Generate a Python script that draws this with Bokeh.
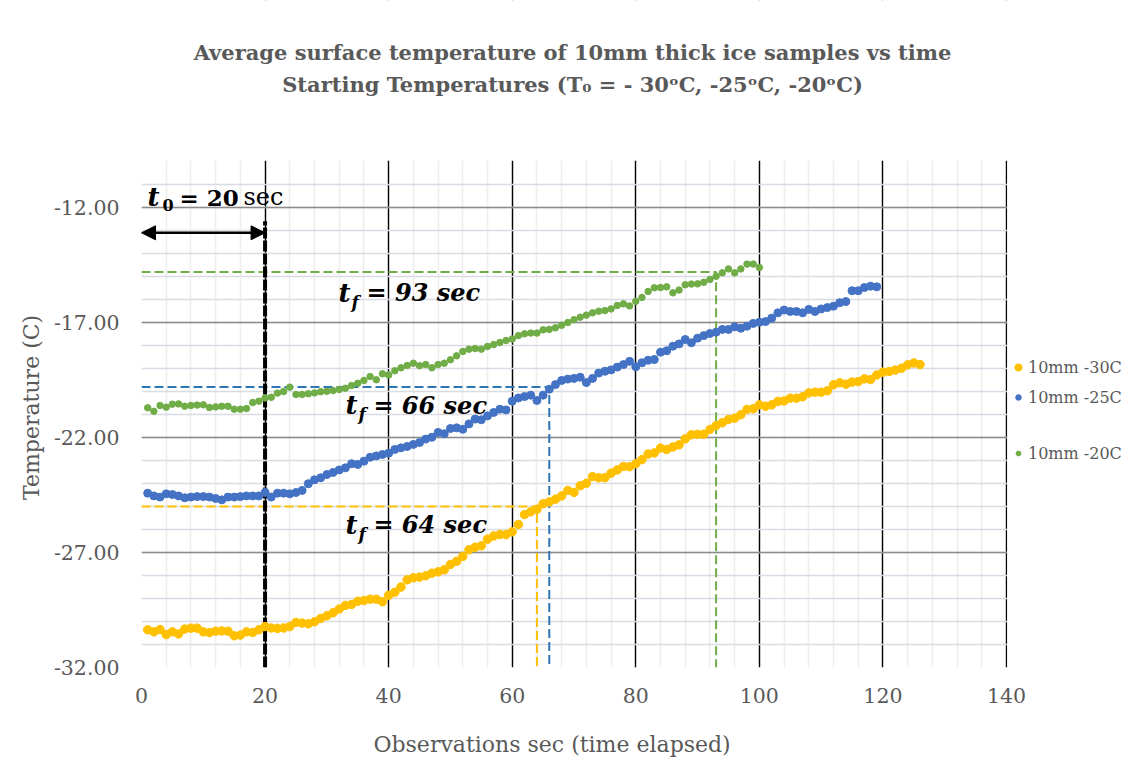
from bokeh.plotting import figure
from bokeh.models import (FixedTicker, Label, Legend, LegendItem, Arrow, NormalHead,
                          Range1d, PrintfTickFormatter, BoxAnnotation)
from bokeh.embed import file_html
from bokeh.resources import INLINE

FONT = "DejaVu Serif"
GREY = "#595959"

title_line1 = "Average surface temperature of 10mm thick ice samples vs time"
title_line2 = "Starting Temperatures (T\u2080 = - 30\u1d52C, -25\u1d52C, -20\u1d52C)"
x_label = "Observations sec (time elapsed)"
y_label = "Temperature (C)"
series_names = ["10mm -30C", "10mm -25C", "10mm -20C"]
series_colors = ["#FFC000", "#4472C4", "#70AD47"]
line_colors = ["#FFC000", "#2E75B6", "#70AD47"]

temp_30 = [
    -30.36, -30.45, -30.35, -30.57, -30.45, -30.54, -30.33, -30.29, -30.29, -30.45,
    -30.48, -30.42, -30.41, -30.42, -30.62, -30.59, -30.45, -30.48, -30.36, -30.22,
    -30.28, -30.30, -30.28, -30.22, -30.04, -30.07, -30.10, -30.01, -29.87, -29.75,
    -29.62, -29.46, -29.30, -29.26, -29.12, -29.09, -29.03, -29.03, -29.14, -28.86,
    -28.73, -28.50, -28.19, -28.10, -28.07, -28.01, -27.90, -27.84, -27.75, -27.52,
    -27.38, -27.17, -26.88, -26.77, -26.71, -26.42, -26.28, -26.22, -26.22, -26.10,
    -25.78, -25.35, -25.23, -25.12, -24.88, -24.80, -24.68, -24.54, -24.30, -24.39,
    -24.10, -23.99, -23.70, -23.75, -23.75, -23.55, -23.41, -23.26, -23.27, -23.14,
    -22.96, -22.72, -22.67, -22.46, -22.52, -22.41, -22.32, -22.06, -21.88, -21.86,
    -21.86, -21.65, -21.48, -21.36, -21.22, -21.16, -21.01, -20.78, -20.75, -20.58,
    -20.64, -20.58, -20.43, -20.41, -20.29, -20.29, -20.23, -20.06, -20.03, -20.03,
    -19.97, -19.71, -19.62, -19.68, -19.59, -19.57, -19.45, -19.48, -19.28, -19.16,
    -19.13, -19.07, -18.99, -18.84, -18.76, -18.83,
]
temp_25 = [
    -24.42, -24.54, -24.59, -24.45, -24.48, -24.54, -24.62, -24.59, -24.57, -24.57,
    -24.59, -24.65, -24.71, -24.59, -24.59, -24.57, -24.54, -24.54, -24.54, -24.39,
    -24.59, -24.42, -24.42, -24.45, -24.39, -24.30, -24.01, -23.84, -23.75, -23.61,
    -23.52, -23.41, -23.32, -23.14, -23.17, -23.03, -22.86, -22.80, -22.74, -22.68,
    -22.52, -22.45, -22.39, -22.30, -22.22, -22.07, -21.99, -21.78, -21.84, -21.61,
    -21.58, -21.64, -21.41, -21.20, -21.23, -21.06, -20.91, -20.77, -20.80, -20.42,
    -20.28, -20.22, -20.16, -20.39, -20.16, -19.90, -19.70, -19.52, -19.46, -19.43,
    -19.38, -19.61, -19.43, -19.20, -19.12, -19.06, -18.94, -18.83, -18.69, -18.92,
    -18.75, -18.64, -18.61, -18.29, -18.23, -18.03, -17.93, -17.74, -17.88, -17.68,
    -17.57, -17.48, -17.42, -17.30, -17.30, -17.19, -17.25, -17.16, -17.04, -16.99,
    -16.96, -16.81, -16.58, -16.46, -16.52, -16.52, -16.58, -16.43, -16.52, -16.41,
    -16.35, -16.29, -16.14, -16.09, -15.62, -15.62, -15.48, -15.42, -15.45,
]
temp_20 = [
    -20.71, -20.86, -20.61, -20.68, -20.55, -20.54, -20.64, -20.61, -20.59, -20.58,
    -20.70, -20.67, -20.64, -20.64, -20.77, -20.77, -20.74, -20.48, -20.42, -20.28,
    -20.25, -20.07, -20.00, -19.81, -20.13, -20.13, -20.10, -20.06, -20.01, -19.99,
    -19.96, -19.91, -19.86, -19.74, -19.64, -19.52, -19.35, -19.49, -19.23, -19.28,
    -19.10, -18.97, -18.87, -18.77, -18.88, -18.83, -18.97, -18.83, -18.77, -18.62,
    -18.45, -18.26, -18.16, -18.13, -18.16, -18.04, -17.96, -17.87, -17.78, -17.72,
    -17.57, -17.49, -17.46, -17.46, -17.32, -17.30, -17.23, -17.12, -17.00, -16.88,
    -16.77, -16.68, -16.58, -16.51, -16.48, -16.41, -16.26, -16.19, -16.28, -16.08,
    -15.91, -15.65, -15.49, -15.48, -15.45, -15.71, -15.59, -15.36, -15.33, -15.32,
    -15.25, -15.13, -14.99, -14.84, -14.67, -14.84, -14.67, -14.46, -14.46, -14.61,
]
time_30 = list(range(1, len(temp_30) + 1))
time_25 = list(range(1, len(temp_25) + 1))
time_20 = list(range(1, len(temp_20) + 1))

x_ticks = [0, 20, 40, 60, 80, 100, 120, 140]
x_minor = list(range(0, 141, 4))
y_ticks = [-32, -27, -22, -17, -12]
y_minor = list(range(-32, -10))
x_max, y_max = 140, -10          # extent of the plotted grid

# annotations
t0 = 20
t0_arrow_level = -13.1
t0_line_top = -12.6
tf_values = [64, 66, 93]          # -30C, -25C, -20C
tf_levels = [-25.0, -19.8, -14.8]
tf_label_x = [33.0, 33.0, 31.9]
tf_label_y = [-25.8, -20.6, -15.7]

# frame extends to the right/top edges so that the legend and titles can live
# inside it; the grid beyond x_max / y_max is masked with white boxes
W, H = 1144, 765
FL, FB = 141, 98                      # frame left / bottom border
px_per_x = (1006 - FL) / x_max
px_per_y = (H - FB - 207) / 20.0
x_end = x_max + (W - 1006) / px_per_x
y_end = -32 + (H - FB) / px_per_y

p = figure(width=W, height=H, output_backend="svg", toolbar_location=None,
           title=None,
           x_range=Range1d(0, x_end), y_range=Range1d(-32, y_end),
           min_border_left=FL, min_border_right=0, min_border_top=0,
           min_border_bottom=FB)
p.outline_line_color = None
p.background_fill_color = "white"

# grids
p.xgrid.ticker = FixedTicker(ticks=x_ticks, minor_ticks=x_minor)
p.xgrid.grid_line_color = "black"
p.xgrid.grid_line_width = 1.4
p.xgrid.minor_grid_line_color = "#EEEEEE"
p.xgrid.minor_grid_line_width = 1.6
p.ygrid.ticker = FixedTicker(ticks=y_ticks, minor_ticks=y_minor)
p.ygrid.grid_line_color = "#8C8C8C"
p.ygrid.grid_line_width = 1.6
p.ygrid.minor_grid_line_color = "#D9DCE4"
p.ygrid.minor_grid_line_width = 1.6

p.add_layout(BoxAnnotation(left=x_max + 0.12, right=x_end + 20, fill_color="white",
                           fill_alpha=1, line_color=None, level="underlay"))
p.add_layout(BoxAnnotation(bottom=y_max + 0.03, top=y_end + 20, fill_color="white",
                           fill_alpha=1, line_color=None, level="underlay"))

# axes
p.xaxis.ticker = FixedTicker(ticks=x_ticks)
p.yaxis.ticker = FixedTicker(ticks=y_ticks)
p.yaxis.formatter = PrintfTickFormatter(format="%.2f")
for ax in p.axis:
    ax.axis_line_color = None
    ax.major_tick_line_color = None
    ax.minor_tick_line_color = None
    ax.major_tick_out = 0
    ax.major_tick_in = 0
    ax.minor_tick_out = 0
    ax.minor_tick_in = 0
    ax.major_label_text_font = FONT
    ax.major_label_text_font_size = "20.5px"
    ax.major_label_text_color = GREY
    ax.axis_label_text_font = FONT
    ax.axis_label_text_font_size = "22px"
    ax.axis_label_text_font_style = "normal"
    ax.axis_label_text_color = GREY
# the axis titles are centred on the (widened) frame; trailing no-break spaces
# move the visible words back to where the original shows them
NBSP = "\u00a0"
p.xaxis.axis_label = x_label + NBSP * 26
p.yaxis.axis_label = y_label + NBSP * 21
p.yaxis.major_label_standoff = 22
p.xaxis.major_label_standoff = 20
p.yaxis.axis_label_standoff = 7
p.xaxis.axis_label_standoff = 26

# chart titles (screen units, measured from the frame's lower-left corner)
for txt, cy in [(title_line1, H - FB - 52), (title_line2, H - FB - 84)]:
    p.add_layout(Label(x=W / 2 - FL, y=cy, x_units="screen", y_units="screen",
                       text=txt, text_font=FONT, text_font_size="21px",
                       text_font_style="bold", text_color=GREY,
                       text_align="center", text_baseline="middle"))

# guide lines for t_f
for tf, lvl, col in zip(tf_values, tf_levels, line_colors):
    p.line(x=[0, tf, tf], y=[lvl, lvl, -32], line_color=col, line_width=2,
           line_dash="9 4")

# t0 marker
p.segment(x0=[t0], y0=[-32], x1=[t0], y1=[t0_line_top], line_color="black",
          line_width=4, line_dash="11 2")
p.add_layout(Arrow(start=NormalHead(size=14, fill_color="black", line_color="black"),
                   end=NormalHead(size=14, fill_color="black", line_color="black"),
                   x_start=0, y_start=t0_arrow_level, x_end=t0, y_end=t0_arrow_level,
                   line_width=2.5, line_color="black"))

# data
renderers = []
sizes = [8.5, 8, 6.5]
for xs, ys, col, s in zip([time_30, time_25, time_20], [temp_30, temp_25, temp_20],
                          series_colors, sizes):
    r = p.scatter(x=xs, y=ys, size=s, fill_color=col, line_color=col)
    renderers.append(r)

# legend entries (one legend per entry, to follow the original's spacing)
legend_rows = [H - FB - 367, H - FB - 397, H - FB - 453]   # row centres
legend_glyph = [18, 14, 12]
marker_cx = 1018 - FL
for name, r, row, g in zip(series_names, renderers, legend_rows, legend_glyph):
    lg = Legend(items=[LegendItem(label=name, renderers=[r])],
                location=(int(marker_cx - g // 2), int(row - 10)), padding=0, margin=0,
                spacing=0, glyph_width=g, glyph_height=g,
                label_standoff=int(10 - g // 2), label_height=20,
                label_text_font=FONT, label_text_font_size="16px",
                label_text_color=GREY, border_line_color=None,
                background_fill_alpha=0)
    p.add_layout(lg, "center")

# t0 label
t0_label_y = -11.55
p.add_layout(Label(x=0, y=t0_label_y, x_offset=6, text="t", text_font=FONT,
                   text_font_size="26px", text_font_style="bold italic",
                   text_color="black", text_baseline="middle"))
p.add_layout(Label(x=0, y=t0_label_y, x_offset=21, y_offset=-8, text="0", text_font=FONT,
                   text_font_size="16px", text_font_style="bold",
                   text_color="black", text_baseline="middle"))
p.add_layout(Label(x=0, y=t0_label_y, x_offset=38, text="= 20", text_font=FONT,
                   text_font_size="23px", text_font_style="bold",
                   text_color="black", text_baseline="middle"))
p.add_layout(Label(x=0, y=t0_label_y, x_offset=102, text="sec", text_font=FONT,
                   text_font_size="24px", text_font_style="normal",
                   text_color="black", text_baseline="middle"))

# t_f labels
for tf, lx, ly in zip(tf_values, tf_label_x, tf_label_y):
    p.add_layout(Label(x=lx, y=ly, text="t", text_font=FONT,
                       text_font_size="26px", text_font_style="bold italic",
                       text_color="black", text_baseline="middle"))
    p.add_layout(Label(x=lx, y=ly, x_offset=13, y_offset=-9, text="f", text_font=FONT,
                       text_font_size="17px", text_font_style="bold italic",
                       text_color="black", text_baseline="middle"))
    p.add_layout(Label(x=lx, y=ly, x_offset=28, text=f"= {tf} sec", text_font=FONT,
                       text_font_size="24px", text_font_style="bold italic",
                       text_color="black", text_baseline="middle"))

open("out.html", "w").write(file_html(p, INLINE))
